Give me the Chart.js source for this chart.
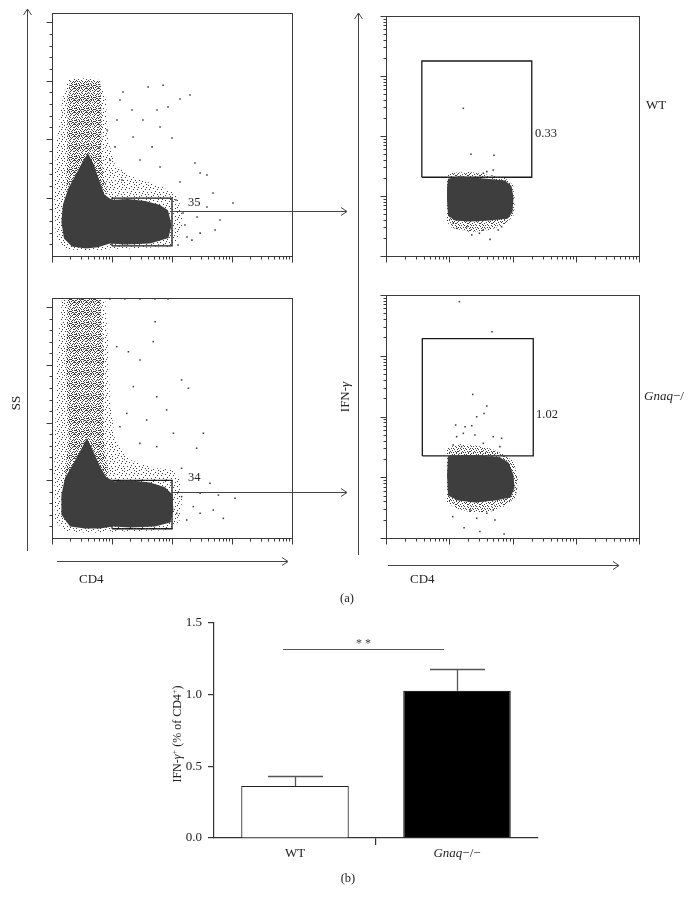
<!DOCTYPE html>
<html>
<head>
<meta charset="utf-8">
<script src="https://cdn.jsdelivr.net/npm/chart.js@4.4.1/dist/chart.umd.min.js"></script>
<style>
  body { margin: 0; background: #fff; width: 695px; height: 905px; position: relative; overflow: hidden;
         font-family: "Liberation Serif", serif; color: #222; }
  canvas { position: absolute; }
  .lbl { position: absolute; white-space: nowrap; font-size: 13px; line-height: 1; }
  .mid { transform: translateY(-50%); }
  .ctr { transform: translate(-50%, -50%); }
  .rot { transform: translate(-50%, -50%) rotate(-90deg); }
  sup { font-size: 0.7em; vertical-align: 0.45em; }
  svg { position: absolute; left: 0; top: 0; pointer-events: none; }
</style>
</head>
<body>
<canvas id="wtAll" width="262" height="266" style="left:40px;top:4px"></canvas>
<canvas id="koAll" width="262" height="262" style="left:40px;top:290px"></canvas>
<canvas id="wtCd4" width="275" height="266" style="left:374px;top:4px"></canvas>
<canvas id="koCd4" width="275" height="266" style="left:374px;top:285px"></canvas>
<canvas id="bars" width="400" height="290" style="left:150px;top:600px"></canvas>

<svg width="695" height="905" fill="none" stroke="#444" stroke-width="1">
  <path d="M27.5,551 V10 M23.5,15 L27.5,9 L31.5,15"/>
  <path d="M57,561.5 H287 M282,557.5 L288,561.5 L282,565.5"/>
  <path d="M358.5,555 V14 M354.5,19 L358.5,13 L362.5,19"/>
  <path d="M388,565.5 H618 M613,561.5 L619,565.5 L613,569.5"/>
  <path d="M172,211.5 H346 M341,207.5 L347,211.5 L341,215.5"/>
  <path d="M173,492.5 H346 M341,488.5 L347,492.5 L341,496.5"/>
</svg>

<div class="lbl rot" style="left:15px;top:403px">SS</div>
<div class="lbl mid" style="left:79px;top:578px">CD4</div>
<div class="lbl rot" style="left:344px;top:397px">IFN-<i>γ</i></div>
<div class="lbl mid" style="left:410px;top:578px">CD4</div>
<div class="lbl mid" style="left:646px;top:104px">WT</div>
<div class="lbl mid" style="left:644px;top:395px"><i>Gnaq</i>−/</div>
<div class="lbl mid" style="left:188px;top:202px;font-size:12.5px">35</div>
<div class="lbl mid" style="left:188px;top:477px;font-size:12.5px">34</div>
<div class="lbl mid" style="left:535px;top:133px;font-size:12.5px">0.33</div>
<div class="lbl mid" style="left:536px;top:414px;font-size:12.5px">1.02</div>
<div class="lbl ctr" style="left:347px;top:598px;font-size:12.5px">(a)</div>
<div class="lbl rot" style="left:177px;top:734px;font-size:12px">IFN-<i>γ</i><sup>+</sup> (% of CD4<sup>+</sup>)</div>
<div class="lbl ctr" style="left:348px;top:878px;font-size:12.5px">(b)</div>

<script>
// ---- (a) flow plots, values in channel units (0-1024, log axes = 4 decades) ----
// WT, all events (SS vs CD4)
const wtAllHalo = [[68,753],[120,762],[205,753],[230,668],[239,496],[269,389],[354,334],[461,300],[529,265],[555,197],[555,120],[529,60],[495,38],[256,30],[162,21],[60,30],[17,77],[9,240],[17,454],[34,603],[51,702],[68,753]];
const wtAllColumn = [[77,753],[205,753],[213,582],[209,440],[222,330],[240,270],[150,250],[60,270],[64,400],[68,496],[64,668],[77,753]];
const wtAllCore = [[154,440],[179,390],[203,320],[224,262],[256,240],[324,244],[397,235],[461,218],[495,196],[510,133],[497,77],[418,54],[311,49],[247,54],[196,37],[145,32],[85,41],[51,75],[40,146],[47,222],[70,290],[105,355],[134,410],[154,440]];
const wtAllDots = [[303,702],[410,723],[474,731],[546,672],[589,689],[341,625],[448,625],[495,638],[277,582],[388,582],[461,552],[346,509],[512,505],[269,467],[427,467],[610,398],[632,355],[461,381],[375,411],[546,317],[661,347],[687,270],[772,227],[661,210],[717,154],[696,111],[632,98],[576,81],[619,167],[559,184],[299,325],[247,411],[205,467],[235,539],[290,668],[529,240],[567,133],[597,68],[538,47]];
const wtAllGate = [256, 512, 43, 248];

// Gnaq-/-, all events
const koAllHalo = [[43,1040],[226,1040],[239,858],[247,598],[269,425],[333,338],[439,303],[512,295],[546,251],[555,165],[546,78],[512,35],[247,26],[162,22],[51,30],[13,78],[9,295],[17,598],[26,858],[43,1040]];
const koAllColumn = [[68,1040],[205,1040],[222,771],[218,511],[226,360],[245,270],[150,250],[55,280],[70,430],[60,771],[68,1040]];
const koAllCore = [[149,432],[175,378],[207,306],[232,263],[265,246],[333,250],[418,241],[482,220],[514,188],[518,121],[505,67],[439,50],[333,46],[260,50],[205,41],[141,41],[77,50],[41,100],[40,186],[56,262],[90,320],[126,388],[149,432]];
const koAllDots = [[276,829],[440,937],[432,851],[326,807],[375,771],[553,685],[582,649],[347,656],[447,612],[489,555],[319,540],[404,511],[646,454],[518,454],[617,389],[447,396],[375,410],[290,482],[553,302],[674,237],[710,186],[781,172],[632,107],[688,121],[731,85],[575,78],[603,136],[553,179],[532,107],[632,194],[77,1036],[119,1036],[183,1036],[247,1036],[311,1036],[375,1036],[439,1036],[495,1036]];
const koAllGate = [256, 512, 40, 250];

// WT, CD4+ gate (IFN-g vs CD4)
const wtCd4Halo = [[247,354],[340,358],[421,346],[482,333],[514,303],[522,239],[518,175],[482,137],[421,111],[340,102],[267,119],[247,145],[247,354]];
const wtCd4Core = [[251,330],[299,340],[372,333],[429,328],[482,322],[508,299],[516,247],[512,188],[494,160],[421,152],[340,147],[279,152],[251,172],[247,239],[247,290],[251,330]];
const wtCd4Dots = [[313,630],[344,434],[437,430],[394,353],[434,367],[408,360],[286,118],[347,90],[378,97],[421,71],[454,111],[468,125],[272,140],[327,125],[394,111]];
const wtCd4Gate = [145, 590, 336, 832];

// Gnaq-/-, CD4+ gate
const koCd4Halo = [[247,379],[299,396],[372,388],[429,375],[482,350],[518,320],[534,244],[526,173],[482,135],[421,110],[340,110],[279,126],[247,152],[247,379]];
const koCd4Core = [[251,345],[320,350],[401,346],[461,340],[496,318],[516,265],[520,211],[504,171],[441,158],[360,150],[291,158],[251,179],[247,265],[251,345]];
const koCd4Dots = [[297,996],[429,869],[351,605],[408,556],[397,525],[367,511],[282,476],[320,469],[347,473],[286,427],[313,441],[360,434],[394,399],[434,427],[468,420],[272,392],[461,385],[306,385],[270,90],[316,43],[380,27],[478,17],[441,76],[367,83],[408,104],[340,118],[434,118]];
const koCd4Gate = [147, 596, 346, 840];

// ---- (b) bar chart ----
const categories = ['WT', 'Gnaq−/−'];
const ifnMean = [0.363, 1.026];
const ifnSem = [0.072, 0.153];
const yTicks = [0, 0.5, 1.0, 1.5];
const sigLevel = 1.317;

const SERIF = '"Liberation Serif", serif';
const DOT = '#3e3e3e';

// speckle textures (12x12 tiles) used to fill the less dense parts of the clouds
const speckA = [[0,1],[3,0],[7,2],[10,0],[5,4],[1,5],[9,5],[11,8],[3,8],[7,7],[0,10],[5,11],[9,10],[2,3],[6,9],[10,3]];
const speckB = [[1,0],[4,2],[8,1],[11,2],[0,4],[3,5],[6,5],[10,6],[2,7],[5,7],[8,8],[11,10],[1,9],[4,10],[7,11],[9,3],[0,7],[6,1],[3,11],[10,11]];
const speckC = [[2,1],[5,0],[9,0],[6,3],[1,2],[4,6],[8,6],[11,5],[0,8],[3,9],[7,9],[10,8],[2,11],[5,9],[8,10],[11,0]];

function speckle(lists) {
    const c = document.createElement('canvas');
    c.width = 12;
    c.height = 12;
    const g = c.getContext('2d');
    g.fillStyle = DOT;
    lists.forEach(l => l.forEach(p => g.fillRect(p[0], p[1], 1, 1)));
    return g.createPattern(c, 'repeat');
}
const sparseFill = speckle([speckA]);
const edgeFill = speckle([speckA, speckB]);
const midFill = speckle([speckA, speckB, speckC]);

// tick positions for 4-decade log axes and the linear SS axis
const logTicks = [];
for (let d = 0; d < 4; d++) {
    for (let k = 1; k <= 9; k++) logTicks.push({ v: 256 * (d + Math.log10(k)), major: k === 1 });
}
logTicks.push({ v: 1024, major: true });
const linTicks = [];
for (let v = 50; v <= 1000; v += 50) linTicks.push({ v: v, major: v % 250 === 0 });

const flowFrame = {
    id: 'flowFrame',
    afterDraw(chart, args, opts) {
        const { ctx, chartArea: a, scales: { x, y } } = chart;
        ctx.save();
        ctx.strokeStyle = '#3a3a3a';
        ctx.lineWidth = 1;
        const L = Math.round(a.left) + 0.5, T = Math.round(a.top) + 0.5;
        const R = Math.round(a.right) + 0.5, B = Math.round(a.bottom) + 0.5;
        ctx.strokeRect(L, T, R - L, B - T);
        ctx.beginPath();
        logTicks.forEach(t => {
            const px = Math.round(x.getPixelForValue(t.v)) + 0.5;
            ctx.moveTo(px, B);
            ctx.lineTo(px, B + (t.major ? 6 : 3));
        });
        (opts.linear ? linTicks : logTicks).forEach(t => {
            const py = Math.round(y.getPixelForValue(t.v)) + 0.5;
            ctx.moveTo(L, py);
            ctx.lineTo(L - (t.major ? 6 : 3), py);
        });
        ctx.stroke();
        ctx.restore();
    }
};

const pts = arr => arr.map(p => ({ x: p[0], y: p[1] }));
const shape = (arr, fill) => ({
    type: 'line', data: pts(arr), fill: 'shape', backgroundColor: fill,
    borderWidth: 0, pointRadius: 0, tension: 0
});
const gateBox = g => ({
    type: 'line',
    data: pts([[g[0], g[2]], [g[1], g[2]], [g[1], g[3]], [g[0], g[3]], [g[0], g[2]]]),
    fill: false, borderColor: '#1a1a1a', borderWidth: 1.3, pointRadius: 0, tension: 0
});

function flowChart(id, parts, yMax, linearY, pad) {
    const sets = [shape(parts.halo, parts.haloFill)];
    if (parts.column) sets.push(shape(parts.column, midFill));
    sets.push(shape(parts.core, DOT));
    sets.push({
        type: 'scatter', data: pts(parts.dots), pointStyle: 'rect',
        pointRadius: 1.1, backgroundColor: DOT, borderWidth: 0
    });
    sets.push(gateBox(parts.gate));
    new Chart(document.getElementById(id), {
        type: 'scatter',
        data: { datasets: sets },
        options: {
            responsive: false,
            animation: false,
            layout: { padding: pad },
            plugins: { legend: { display: false }, tooltip: { enabled: false }, flowFrame: { linear: linearY } },
            scales: {
                x: { type: 'linear', min: 0, max: 1024, display: false },
                y: { type: 'linear', min: 0, max: yMax, display: false }
            }
        },
        plugins: [flowFrame]
    });
}

flowChart('wtAll', { halo: wtAllHalo, haloFill: sparseFill, column: wtAllColumn, core: wtAllCore, dots: wtAllDots, gate: wtAllGate },
    1040, true, { left: 12, top: 9, right: 10, bottom: 14 });
flowChart('koAll', { halo: koAllHalo, haloFill: sparseFill, column: koAllColumn, core: koAllCore, dots: koAllDots, gate: koAllGate },
    1040, true, { left: 12, top: 8, right: 10, bottom: 14 });
flowChart('wtCd4', { halo: wtCd4Halo, haloFill: edgeFill, core: wtCd4Core, dots: wtCd4Dots, gate: wtCd4Gate },
    1024, false, { left: 12, top: 12, right: 10, bottom: 14 });
flowChart('koCd4', { halo: koCd4Halo, haloFill: edgeFill, core: koCd4Core, dots: koCd4Dots, gate: koCd4Gate },
    1024, false, { left: 12, top: 10, right: 10, bottom: 13 });

// error bars, significance line and category labels
const barExtras = {
    id: 'barExtras',
    afterDatasetsDraw(chart) {
        const { ctx, chartArea: a, scales: { x, y } } = chart;
        ctx.save();
        ctx.strokeStyle = '#555';
        ctx.lineWidth = 1.3;
        ifnMean.forEach((m, i) => {
            const cx = Math.round(x.getPixelForValue(i)) + 0.5;
            const top = Math.round(y.getPixelForValue(m + ifnSem[i])) + 0.5;
            const base = y.getPixelForValue(m);
            ctx.beginPath();
            ctx.moveTo(cx, base);
            ctx.lineTo(cx, top);
            ctx.moveTo(cx - 27.5, top);
            ctx.lineTo(cx + 27.5, top);
            ctx.stroke();
        });
        const sy = Math.round(y.getPixelForValue(sigLevel)) + 0.5;
        const x0 = x.getPixelForValue(0) - 12, x1 = x.getPixelForValue(1) - 13;
        ctx.lineWidth = 1.1;
        ctx.beginPath();
        ctx.moveTo(x0, sy);
        ctx.lineTo(x1, sy);
        ctx.stroke();
        ctx.fillStyle = '#444';
        ctx.font = '12px ' + SERIF;
        ctx.textAlign = 'center';
        ctx.textBaseline = 'middle';
        ctx.fillText('* *', (x0 + x1) / 2, sy - 6);

        ctx.fillStyle = '#222';
        ctx.textAlign = 'left';
        const ly = a.bottom + 16;
        categories.forEach((lab, i) => {
            const cx = x.getPixelForValue(i);
            if (lab.startsWith('Gnaq')) {
                const rest = lab.slice(4);
                ctx.font = 'italic 13px ' + SERIF;
                const w1 = ctx.measureText('Gnaq').width;
                ctx.font = '13px ' + SERIF;
                const w2 = ctx.measureText(rest).width;
                const sx = cx - (w1 + w2) / 2;
                ctx.font = 'italic 13px ' + SERIF;
                ctx.fillText('Gnaq', sx, ly);
                ctx.font = '13px ' + SERIF;
                ctx.fillText(rest, sx + w1, ly);
            } else {
                ctx.font = '13px ' + SERIF;
                const w = ctx.measureText(lab).width;
                ctx.fillText(lab, cx - w / 2, ly);
            }
        });
        ctx.restore();
    }
};

new Chart(document.getElementById('bars'), {
    type: 'bar',
    data: {
        labels: categories,
        datasets: [{
            data: ifnMean,
            backgroundColor: ['#ffffff', '#000000'],
            borderColor: '#222',
            borderWidth: 1.2,
            borderSkipped: 'bottom',
            barPercentage: 0.664,
            categoryPercentage: 1
        }]
    },
    options: {
        responsive: false,
        animation: false,
        layout: { padding: { top: 22.7, right: 12, bottom: 0, left: 0 } },
        plugins: { legend: { display: false }, tooltip: { enabled: false } },
        scales: {
            y: {
                min: 0, max: 1.5,
                afterFit: s => { s.width = 64; },
                afterBuildTicks: s => { s.ticks = yTicks.map(v => ({ value: v })); },
                border: { display: true, color: '#333', width: 1.2 },
                grid: { display: true, drawOnChartArea: false, drawTicks: true, tickLength: 6, color: '#333', lineWidth: 1.2 },
                ticks: { padding: 6, color: '#222', font: { family: SERIF, size: 13 }, callback: v => Number(v).toFixed(1) }
            },
            x: {
                offset: true,
                afterFit: s => { s.height = 52; },
                border: { display: true, color: '#333', width: 1.2 },
                grid: {
                    display: true, offset: true, drawOnChartArea: false, drawTicks: true, tickLength: 7, lineWidth: 1.2,
                    color: 'rgba(0,0,0,0)',
                    tickColor: c => c.index === 1 ? '#333' : 'rgba(0,0,0,0)'
                },
                ticks: { display: false }
            }
        }
    },
    plugins: [barExtras]
});
</script>
</body>
</html>
